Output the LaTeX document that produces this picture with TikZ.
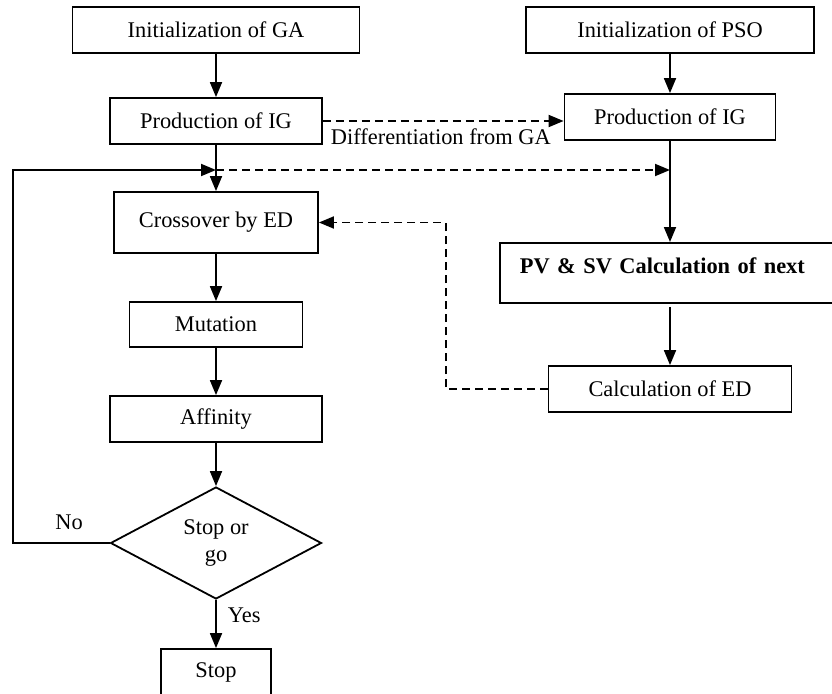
\documentclass[tikz,border=0pt]{standalone}
\usepackage{fontspec}
\setmainfont{Liberation Serif}
\usepackage{tikz}
\usetikzlibrary{arrows.meta,positioning,shapes.geometric,calc}

\begin{document}
\begin{tikzpicture}[
  x=1pt, y=-1pt,
  line width=1.8pt,
  font=\fontsize{22.4}{27}\selectfont,
  box/.style={draw, minimum height=46pt, inner sep=0pt, align=center},
  flow/.style={-{Triangle[length=15pt,width=12pt]}},
  dflow/.style={flow, dash pattern=on 8pt off 5pt},
  lbl/.style={inner sep=1pt},
]
\fill[white] (0,0) rectangle (832,693);
\useasboundingbox (0,0) rectangle (832,693);

\node[box, minimum width=287pt] (ga)   at (216,30)  {Initialization of GA};
\node[box, minimum width=288pt] (pso)  at (670,30)  {Initialization of PSO};
\node[box, minimum width=212pt] (iga)  at (216,121) {Production of IG};
\node[box, minimum width=211pt] (ipso) at (670,117) {Production of IG};
\node[box, minimum width=204pt, minimum height=61pt] (cross) at (216,222.5) {Crossover by ED};
\node[box, minimum width=173pt, minimum height=45pt] (mut)   at (216,324.5) {Mutation};
\node[box, minimum width=212pt] (aff)  at (216,419) {Affinity};
\node[draw, diamond, minimum width=211pt, minimum height=112pt, inner sep=0pt,
      align=center] (dec) at (216,543) {Stop or\\go};
\node[box, minimum width=110pt] (stop) at (216,672) {Stop};
\node[draw, anchor=north west, minimum width=346pt, text width=306pt, inner xsep=20pt,
      inner ysep=0pt, text height=31pt, text depth=29pt, align=left,
      font=\fontsize{22.4}{27}\selectfont\bfseries] (pv) at (499,242)
  {PV \& SV Calculation of next};
\node[box, minimum width=243pt] (ced)  at (670,389) {Calculation of ED};

\coordinate (jn)   at (216,170);
\coordinate (back) at (13,170);

\draw[flow] (ga) -- (iga);
\draw[flow] (pso) -- (ipso);
\draw[dflow] (iga.east) -- node[lbl, below=5.5pt, pos=0.49] {Differentiation from GA}
  (iga.east -| ipso.west);
\draw[flow] (iga) -- (cross);
\draw[dflow] (jn) -- (jn -| ipso.south);
\draw[flow] (ipso.south) -- (ipso.south |- pv.north);
\draw[flow, shorten <=3pt] (ced.north |- pv.south) -- (ced.north);
\draw[dflow] (ced.west) -- ++(-102,0) |- (cross.east);
\draw[flow] (cross) -- (mut);
\draw[flow] (mut) -- (aff);
\draw[flow] (aff) -- (dec);
\draw[flow] (dec) -- node[lbl, right=10pt, pos=0.32] {Yes} (stop);
\draw[flow] (dec.west) -- node[lbl, above=11pt, pos=0.42] {No} (back |- dec.west)
  -- (back) -- (jn);
\end{tikzpicture}
\end{document}
